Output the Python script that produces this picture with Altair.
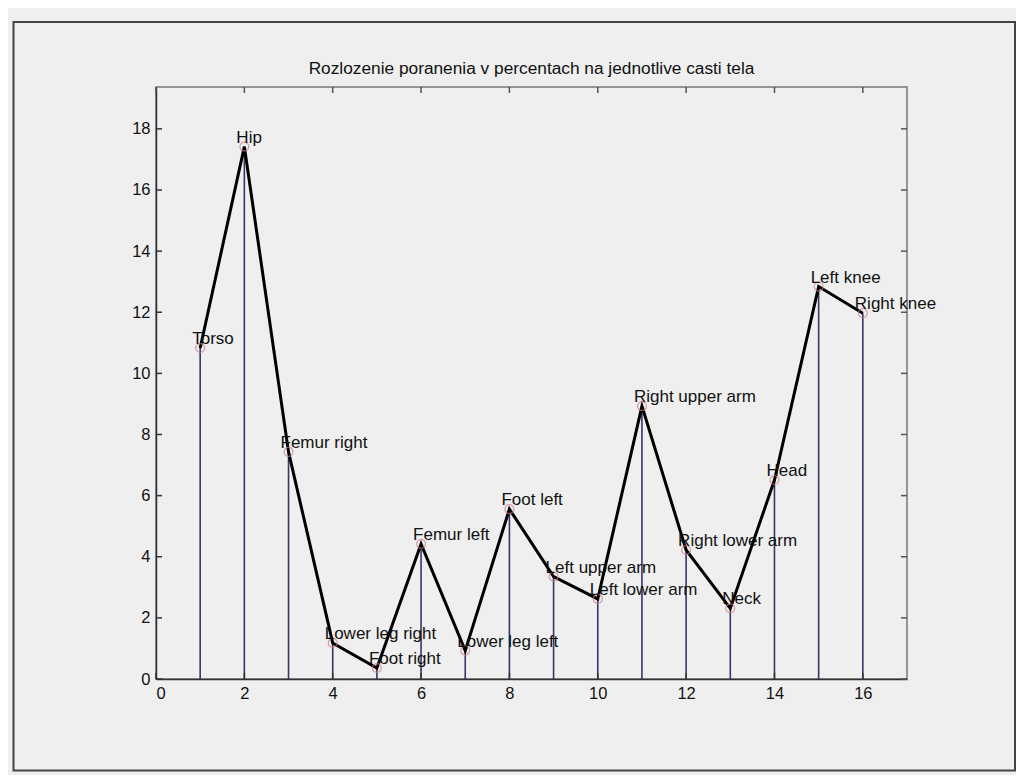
import altair as alt
import pandas as pd

parts = ["Torso", "Hip", "Femur right", "Lower leg right", "Foot right", "Femur left",
         "Lower leg left", "Foot left", "Left upper arm", "Left lower arm", "Right upper arm",
         "Right lower arm", "Neck", "Head", "Left knee", "Right knee"]
index = list(range(1, 17))
percent = [10.83, 17.42, 7.43, 1.18, 0.36, 4.42, 0.93, 5.56, 3.35, 2.62, 8.93, 4.22, 2.31, 6.51, 12.84, 11.97]
x_ticks = [0, 2, 4, 6, 8, 10, 12, 14, 16]
y_ticks = [0, 2, 4, 6, 8, 10, 12, 14, 16, 18]
title = ["Rozlozenie poranenia v percentach na jednotlive casti tela"]

df = pd.DataFrame({"x": index, "y": percent, "label": parts, "zero": [0] * len(index)})
xt = pd.DataFrame({"v": x_ticks})
yt = pd.DataFrame({"v": y_ticks})
tdf = pd.DataFrame({"t": title})

W, H = 751, 592
FONT = "Liberation Sans"
BG = "#efefef"

xs = alt.Scale(domain=[0, 17], nice=False, zero=False)
ys = alt.Scale(domain=[0, 19.37], nice=False, zero=False)

xaxis = alt.Axis(values=x_ticks, tickSize=0, labelPadding=6, domainColor="#333333",
                 domainWidth=1.5, grid=False, labelFontSize=16.5, labelFont=FONT,
                 labelColor="#111111", title=None)
yaxis = alt.Axis(values=y_ticks, tickSize=0, labelPadding=6, domainColor="#333333",
                 domainWidth=1.5, grid=False, labelFontSize=16.5, labelFont=FONT,
                 labelColor="#111111", title=None)

base = alt.Chart(df)

frame = alt.Chart(pd.DataFrame({"a": [0]})).mark_rect(
    fill=None, stroke="#444444", strokeWidth=2, clip=False
).encode(x=alt.value(-142.5), x2=alt.value(859), y=alt.value(-65), y2=alt.value(683.5))

title_mark = alt.Chart(tdf).mark_text(
    align="center", baseline="alphabetic", font=FONT, fontSize=17.3, color="#111111"
).encode(x=alt.value(W / 2), y=alt.value(-13), text="t:N")

stems = base.mark_rule(color="#36366e", strokeWidth=1.6).encode(
    x=alt.X("x:Q", scale=xs, axis=xaxis),
    y=alt.Y("zero:Q", scale=ys, axis=yaxis),
    y2="y:Q",
)

circles = base.mark_point(shape="circle", filled=False, color="#d07888", size=80, strokeWidth=1.2).encode(
    x=alt.X("x:Q", scale=xs), y=alt.Y("y:Q", scale=ys)
)

line = base.mark_line(color="#000000", strokeWidth=3).encode(
    x=alt.X("x:Q", scale=xs), y=alt.Y("y:Q", scale=ys)
)

labels = base.mark_text(align="left", baseline="middle", dx=-8, dy=-9, font=FONT,
                        fontSize=17, color="#111111").encode(
    x=alt.X("x:Q", scale=xs), y=alt.Y("y:Q", scale=ys), text="label:N"
)

tb = alt.Chart(xt).mark_rule(color="#333333", strokeWidth=1.5).encode(
    x=alt.X("v:Q", scale=xs), y=alt.value(H), y2=alt.value(H - 6))
tt = alt.Chart(xt).mark_rule(color="#555555", strokeWidth=1.5).encode(
    x=alt.X("v:Q", scale=xs), y=alt.value(0), y2=alt.value(6))
tl = alt.Chart(yt).mark_rule(color="#333333", strokeWidth=1.5).encode(
    y=alt.Y("v:Q", scale=ys), x=alt.value(0), x2=alt.value(6))
tr = alt.Chart(yt).mark_rule(color="#555555", strokeWidth=1.5).encode(
    y=alt.Y("v:Q", scale=ys), x=alt.value(W), x2=alt.value(W - 6))

chart = alt.layer(frame, title_mark, stems, line, circles, labels, tb, tt, tl, tr).properties(
    width=W, height=H,
    autosize=alt.AutoSizeParams(type="none"),
    padding={"left": 148, "top": 79, "right": 109, "bottom": 96},
).configure(background=BG).configure_view(stroke="#777777", strokeWidth=1.5, fill=BG)

chart.save("out.html", embed_options={"renderer": "svg", "actions": False})
